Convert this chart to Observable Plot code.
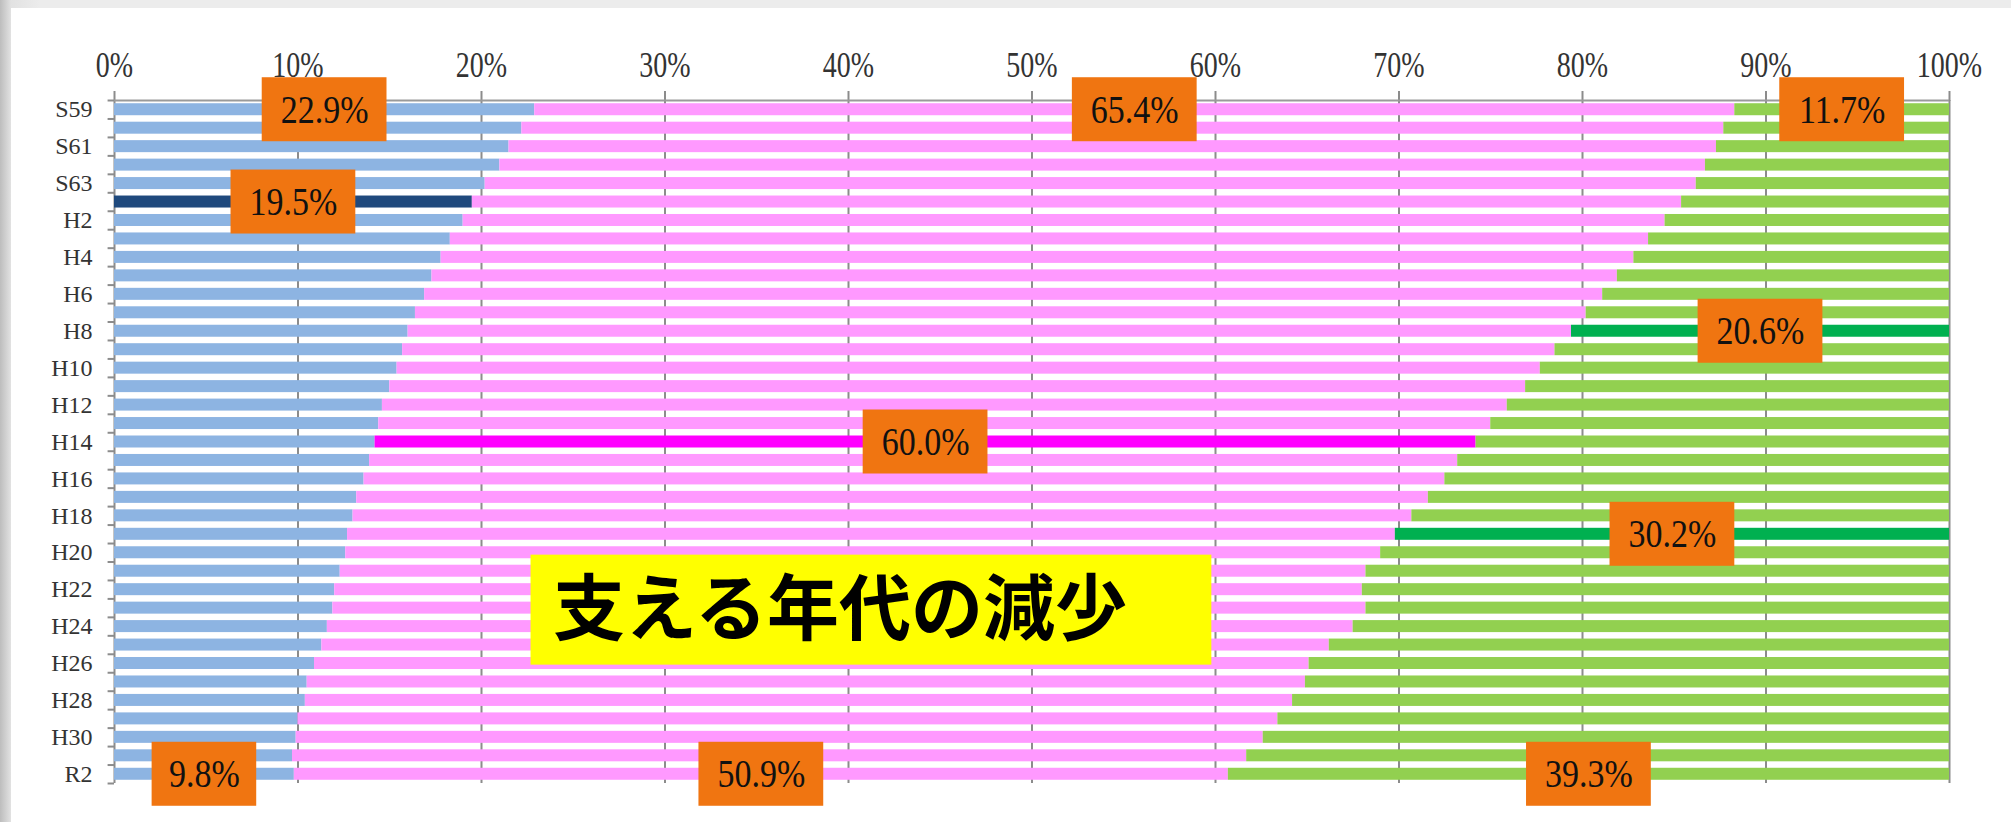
<!DOCTYPE html>
<html>
<head>
<meta charset="utf-8">
<script src="https://cdn.jsdelivr.net/npm/d3@7"></script>
<script src="https://cdn.jsdelivr.net/npm/@observablehq/plot@0.6"></script>
<style>
  html, body { margin: 0; padding: 0; }
  body {
    width: 2011px; height: 822px; overflow: hidden;
    background: linear-gradient(to right, #bdbdbd 0px, #e2e2e2 11px, #ececec 40px);
  }
  #panel { position: absolute; left: 11px; top: 8px; width: 2000px; height: 814px; background: #fff; }
</style>
</head>
<body>
<div id="panel"></div>
<script>
// ---- data ----
const years = ["S59","S60","S61","S62","S63","H1","H2","H3","H4","H5","H6","H7","H8","H9","H10",
  "H11","H12","H13","H14","H15","H16","H17","H18","H19","H20","H21","H22","H23","H24","H25",
  "H26","H27","H28","H29","H30","H31","R2"];
const young   = [22.9,22.2,21.5,21.0,20.2,19.5,19.0,18.3,17.8,17.3,16.9,16.4,16.0,15.7,15.4,15.0,14.6,14.4,14.2,13.9,13.6,13.2,13.0,12.7,12.6,12.3,12.0,11.9,11.6,11.3,10.9,10.5,10.4,10.0,9.9,9.7,9.8];
const working = [65.4,65.5,65.8,65.7,66.0,65.9,65.5,65.3,65.0,64.6,64.2,63.8,63.4,62.8,62.3,61.9,61.3,60.6,60.0,59.3,58.9,58.4,57.7,57.1,56.4,55.9,56.0,56.3,55.9,54.9,54.2,54.4,53.8,53.4,52.7,52.0,50.9];
const elderly = [11.7,12.3,12.7,13.3,13.8,14.6,15.5,16.4,17.2,18.1,18.9,19.8,20.6,21.5,22.3,23.1,24.1,25.0,25.8,26.8,27.5,28.4,29.3,30.2,31.0,31.8,32.0,31.8,32.5,33.8,34.9,35.1,35.8,36.6,37.4,38.3,39.3];
const groups = ["young","working","elderly"];
const xTicks = [0,10,20,30,40,50,60,70,80,90,100];
const yLabelYears = ["S59","S61","S63","H2","H4","H6","H8","H10","H12","H14","H16","H18","H20","H22","H24","H26","H28","H30","R2"];
const highlights = [["H1","young"],["H8","elderly"],["H14","working"],["H19","elderly"]];
const callouts = [["S59","young"],["S59","working"],["S59","elderly"],["H1","young"],["H8","elderly"],
  ["H14","working"],["H19","elderly"],["R2","young"],["R2","working"],["R2","elderly"]];
const headline = "支える年代の減少";
const headlineYear = "H23";
const headlineX1 = 22.7, headlineX2 = 59.8;

// ---- styles ----
const baseColor = {young: "#8DB4E2", working: "#FF99FF", elderly: "#92D050"};
const hiColor   = {young: "#1F497D", working: "#FF00FF", elderly: "#00B050"};
const series = {young, working, elderly};
const serif = "'Liberation Serif', 'DejaVu Serif', serif";
const gridColor = "#8c8c8c";

// ---- tables ----
const isHi = (y, g) => highlights.some(([hy, hg]) => hy === y && hg === g);
const table = [];
years.forEach((y, i) => groups.forEach(g => table.push({year: y, group: g, value: series[g][i],
  color: isHi(y, g) ? hiColor[g] : baseColor[g]})));

const calloutRows = callouts.map(([y, g]) => {
  const i = years.indexOf(y);
  let start = 0;
  for (const gg of groups) { if (gg === g) break; start += series[gg][i]; }
  const v = series[g][i];
  const label = v.toFixed(1) + "%";
  const half = label.length > 4 ? 3.4 : 2.85;
  return {year: y, mid: start + v / 2, x1: start + v / 2 - half, x2: start + v / 2 + half, label};
});

const W = 2000, H = 814, mT = 92, mB = 39, mL = 103, mR = 62;
const step = (H - mT - mB) / years.length;
const bw = step * 0.65;

const chart = Plot.plot({
  width: W, height: H,
  marginLeft: mL, marginRight: mR, marginTop: mT, marginBottom: mB,
  style: {background: "transparent", overflow: "visible"},
  x: {domain: [0, 100], axis: null},
  y: {domain: years, paddingInner: 0.35, paddingOuter: 0.175, round: false, axis: null},
  color: {type: "identity"},
  marks: [
    Plot.ruleX(xTicks, {x: d => d, stroke: gridColor, strokeWidth: 2}),
    Plot.axisX(xTicks, {anchor: "top", tickSize: 10, tickPadding: 14, tickFormat: d => d + "%", label: null,
      stroke: gridColor, strokeWidth: 2, fontSize: 28, fontFamily: serif, fill: "#333"}),
    Plot.ruleY([years[0]], {y: d => d, x1: 0, x2: 100, dy: -step / 2, stroke: "#9a9a9a", strokeWidth: 2}),
    Plot.ruleY(years, {y: d => d, x1: -0.35, x2: 0, dy: -step / 2, stroke: gridColor, strokeWidth: 2}),
    Plot.ruleY([years[years.length - 1]], {y: d => d, x1: -0.35, x2: 0, dy: step / 2, stroke: gridColor, strokeWidth: 2}),
    Plot.axisY(yLabelYears, {anchor: "left", tickSize: 0, tickPadding: 22, label: null, fontSize: 24, fontFamily: serif, fill: "#333"}),
    Plot.barX(table, Plot.stackX({y: "year", x: "value", fill: "color", order: null})),
    Plot.barX([headline], {x1: headlineX1, x2: headlineX2, y: () => headlineYear, fill: "#FFFF00",
      insetTop: -(110 - bw) / 2, insetBottom: -(110 - bw) / 2, dy: 2}),
    Plot.text([headline], {x: headlineX1, y: () => headlineYear, text: d => d, textAnchor: "start", dx: 22, dy: 3,
      fontSize: 72, fontWeight: "bold", fontFamily: "'Noto Sans CJK JP', sans-serif", fill: "#000"}),
    Plot.barX(calloutRows, {x1: "x1", x2: "x2", y: "year", fill: "#F07511",
      insetTop: -(64 - bw) / 2, insetBottom: -(64 - bw) / 2}),
    Plot.text(calloutRows, {x: "mid", y: "year", text: "label", fontSize: 34, fontFamily: serif, fill: "#111"})
  ]
});

chart.querySelectorAll('[aria-label="x-axis tick label"] text').forEach(t => {
  t.setAttribute("transform", (t.getAttribute("transform") || "") + " scale(1,1.3)");
});
chart.querySelectorAll('[aria-label="text"] text').forEach(t => {
  if (/%$/.test(t.textContent)) t.setAttribute("transform", (t.getAttribute("transform") || "") + " scale(1,1.18)");
});
document.getElementById("panel").appendChild(chart);
</script>
</body>
</html>
